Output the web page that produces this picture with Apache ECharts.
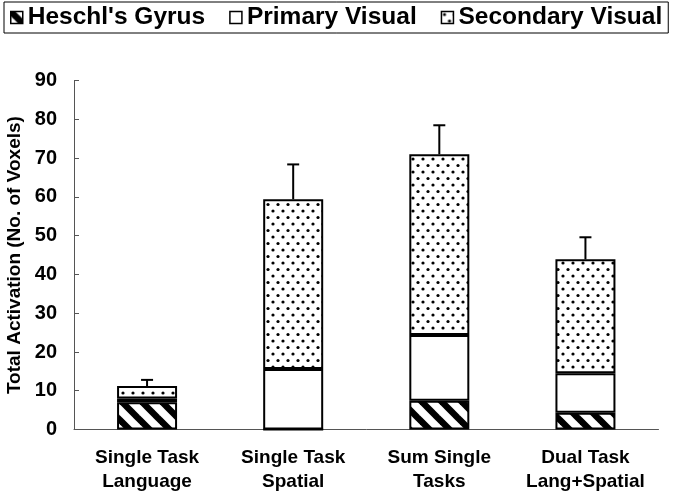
<!DOCTYPE html>
<html>
<head>
<meta charset="utf-8">
<script src="https://cdn.jsdelivr.net/npm/echarts@6/dist/echarts.min.js"></script>
<style>
  html, body { margin: 0; padding: 0; background: #fff; }
  #main { width: 673px; height: 494px; }
</style>
</head>
<body>
<div id="main"></div>
<script>
// data
const categories = ['Single Task\nLanguage', 'Single Task\nSpatial', 'Sum Single\nTasks', 'Dual Task\nLang+Spatial'];
const seriesNames = ["Heschl's Gyrus", 'Primary Visual', 'Secondary Visual'];
const heschl = [7, 0, 7.4, 4.3];
const primary = [1, 15.6, 17, 10.2];
const secondary = [3.2, 43.8, 46.6, 29.4];
const errorTop = [12.8, 68.4, 78.5, 49.6];
const yMin = 0;
const yMax = 90;
const yStep = 10;

const font = '"Liberation Sans", Arial, sans-serif';

// diagonal black stripes
function hatchPattern() {
  const c = document.createElement('canvas');
  c.width = 20;
  c.height = 20;
  const ctx = c.getContext('2d');
  ctx.fillStyle = '#fff';
  ctx.fillRect(0, 0, 20, 20);
  ctx.strokeStyle = '#000';
  ctx.lineWidth = 6.5;
  [-20, 0, 20].forEach((x) => {
    ctx.beginPath();
    ctx.moveTo(x - 5, -5);
    ctx.lineTo(x + 25, 25);
    ctx.stroke();
  });
  return c;
}

// small dots
function dotPattern() {
  const c = document.createElement('canvas');
  c.width = 10;
  c.height = 13;
  const ctx = c.getContext('2d');
  ctx.fillStyle = '#fff';
  ctx.fillRect(0, 0, 10, 13);
  ctx.fillStyle = '#000';
  [[3, 3], [8, 9.5]].forEach(([x, y]) => {
    ctx.beginPath();
    ctx.arc(x, y, 1.6, 0, Math.PI * 2);
    ctx.fill();
  });
  return c;
}

const fills = [
  { image: hatchPattern(), repeat: 'repeat' },
  '#fff',
  { image: dotPattern(), repeat: 'repeat' }
];
const values = [heschl, primary, secondary];

const totals = categories.map((_, i) => heschl[i] + primary[i] + secondary[i]);
const errorData = categories.map((_, i) => [i, totals[i], errorTop[i]]);

const barSeries = seriesNames.map((name, k) => ({
  name: name,
  type: 'bar',
  stack: 'total',
  barWidth: 60,
  data: values[k],
  itemStyle: {
    color: fills[k],
    borderColor: '#000',
    borderWidth: 2
  }
}));

const chart = echarts.init(document.getElementById('main'));
chart.setOption({
  animation: false,
  backgroundColor: '#fff',
  legend: {
    data: seriesNames,
    left: 4,
    top: 2,
    padding: [3, 6],
    itemWidth: 12,
    itemHeight: 12,
    itemGap: 24,
    borderColor: '#000',
    borderWidth: 1,
    icon: 'rect',
    itemStyle: { borderColor: '#000', borderWidth: 1.5 },
    textStyle: { color: '#000', fontSize: 24.5, fontWeight: 'bold', fontFamily: font }
  },
  grid: {
    left: 74,
    right: 14.5,
    top: 80.7,
    bottom: 64.5,
    outerBoundsMode: 'none'
  },
  xAxis: {
    type: 'category',
    data: categories,
    axisLine: { lineStyle: { color: '#555', width: 1 } },
    axisTick: { show: false },
    axisLabel: {
      interval: 0,
      color: '#000',
      fontSize: 19,
      fontWeight: 'bold',
      fontFamily: font,
      lineHeight: 24,
      margin: 16
    }
  },
  yAxis: {
    type: 'value',
    min: yMin,
    max: yMax,
    interval: yStep,
    name: 'Total Activation (No. of Voxels)',
    nameLocation: 'middle',
    nameGap: 48,
    nameTextStyle: { color: '#000', fontSize: 19, fontWeight: 'bold', fontFamily: font },
    axisLine: { show: true, lineStyle: { color: '#555', width: 1 } },
    axisTick: { show: true, inside: true, length: 5, lineStyle: { color: '#555' } },
    axisLabel: { color: '#000', fontSize: 20, fontWeight: 'bold', fontFamily: font, margin: 17 },
    splitLine: { show: false }
  },
  series: barSeries.concat([{
    name: 'error',
    type: 'custom',
    z: 5,
    data: errorData,
    renderItem: function (params, api) {
      const base = api.coord([api.value(0), api.value(1)]);
      const tip = api.coord([api.value(0), api.value(2)]);
      const half = 6;
      return {
        type: 'group',
        children: [
          { type: 'line', shape: { x1: base[0], y1: base[1], x2: tip[0], y2: tip[1] }, style: { stroke: '#000', lineWidth: 2 } },
          { type: 'line', shape: { x1: tip[0] - half, y1: tip[1], x2: tip[0] + half, y2: tip[1] }, style: { stroke: '#000', lineWidth: 2 } }
        ]
      };
    }
  }])
});
</script>
</body>
</html>
